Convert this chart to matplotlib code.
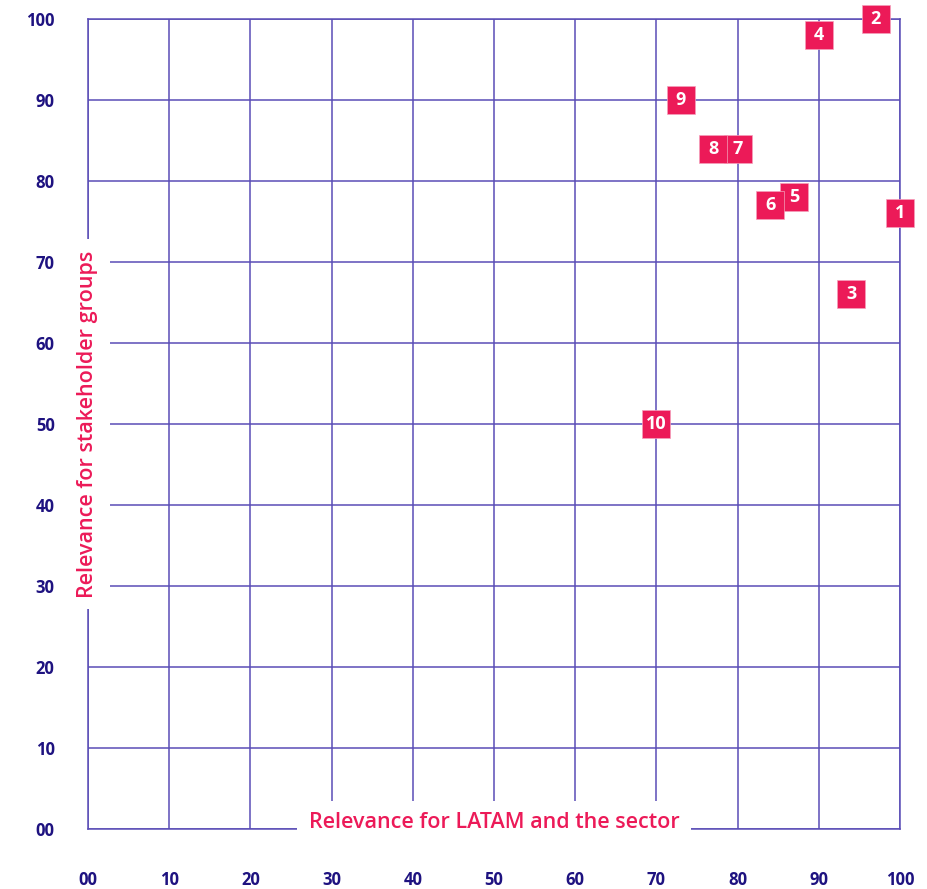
import matplotlib.pyplot as plt

# Materiality matrix data
labels = ["1", "2", "3", "4", "5", "6", "7", "8", "9", "10"]
sector_relevance = [100, 97, 94, 90, 87, 84, 80, 77, 73, 70]
stakeholder_relevance = [76, 100, 66, 98, 78, 77, 84, 84, 90, 50]
ticks = [0, 10, 20, 30, 40, 50, 60, 70, 80, 90, 100]
tick_labels = ["00", "10", "20", "30", "40", "50", "60", "70", "80", "90", "100"]

GRID = "#5a4db6"
PINK = "#ec1a58"
NAVY = "#1e1280"

plt.rcParams['font.family'] = ['Open Sans', 'DejaVu Sans']

fig = plt.figure(figsize=(9.28, 8.89), dpi=100)
ax = fig.add_axes([88 / 928, 60 / 889, 812 / 928, 810 / 889])
ax.set_xlim(0, 100)
ax.set_ylim(0, 100)

ax.set_xticks(ticks)
ax.set_xticklabels(tick_labels)
ax.set_yticks(ticks)
ax.set_yticklabels(tick_labels)
ax.tick_params(length=0, labelsize=12, labelcolor=NAVY)
ax.tick_params(axis='x', pad=30)
ax.tick_params(axis='y', pad=24)
for lab in ax.get_xticklabels() + ax.get_yticklabels():
    lab.set_fontweight('bold')

ax.grid(True, color=GRID, linewidth=1.1)
for s in ax.spines.values():
    s.set_color(GRID)
    s.set_linewidth(1.1)
ax.set_axisbelow(True)

# axis titles sitting on the axis lines, with white boxes hiding the line
ax.text(50, 0.8, "Relevance for LATAM and the sector", color=PINK, fontsize=15.5,
        fontweight='semibold', ha='center', va='center', zorder=5,
        bbox=dict(facecolor='white', edgecolor='none', pad=8), clip_on=False)
ax.text(0, 50, "Relevance for stakeholder groups", color=PINK, fontsize=15.5,
        fontweight='semibold', ha='center', va='center', rotation=90, zorder=5,
        bbox=dict(facecolor='white', edgecolor='none', pad=8), clip_on=False)

# numbered square markers
for i, (x, y, lab) in enumerate(zip(sector_relevance, stakeholder_relevance, labels)):
    ax.plot(x, y, marker='s', markersize=20, color=PINK, markeredgecolor='#f4a0bb',
            markeredgewidth=0.5, clip_on=False, zorder=10 + i)
    ax.text(x, y, lab, color='white', fontsize=13, fontweight='bold',
            ha='center', va='center', zorder=10 + i, clip_on=False)

fig.savefig("out.png", dpi=100, facecolor='white')
